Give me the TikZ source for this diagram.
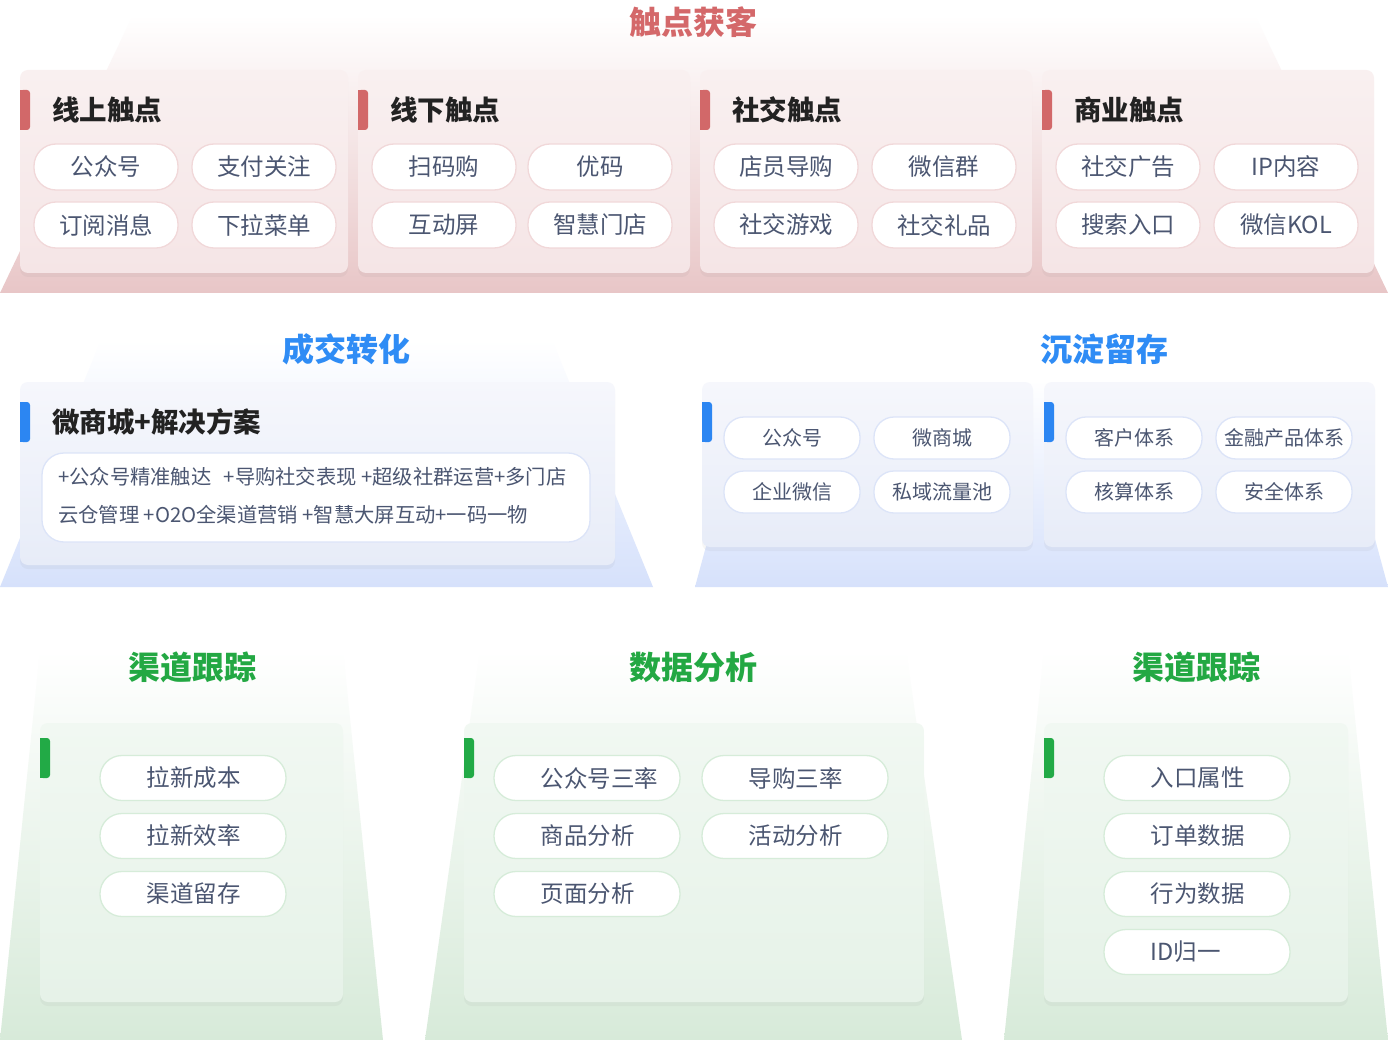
\documentclass[tikz,border=0pt]{standalone}
\usepackage{fontspec}
\setmainfont{Noto Sans CJK SC}
\usetikzlibrary{shadows}
\definecolor{redT}{HTML}{D4686A}
\definecolor{redBar}{HTML}{D26869}
\definecolor{redBg}{HTML}{E8C6C7}
\definecolor{redCardT}{HTML}{F9F0F0}
\definecolor{redCardB}{HTML}{F5E5E6}
\definecolor{redLine}{HTML}{F1D8D9}
\definecolor{blueT}{HTML}{2F8CF5}
\definecolor{blueBar}{HTML}{2C86F2}
\definecolor{blueBg}{HTML}{D6E1FB}
\definecolor{blueCardT}{HTML}{F6F7FC}
\definecolor{blueCardB}{HTML}{E7ECF8}
\definecolor{blueLine}{HTML}{DCE4F8}
\definecolor{greenT}{HTML}{23A843}
\definecolor{greenBar}{HTML}{22AA46}
\definecolor{greenBg}{HTML}{D7EAD9}
\definecolor{greenCardT}{HTML}{F1F8F2}
\definecolor{greenCardB}{HTML}{E6F2E8}
\definecolor{greenLine}{HTML}{D6ECD9}
\definecolor{pilltext}{HTML}{4B5671}
\definecolor{headtext}{HTML}{222222}
\begin{document}
\begin{tikzpicture}[x=1pt,y=-1pt,
  sectitle/.style={inner sep=0pt, font=\fontsize{32}{36}\selectfont\bfseries},
  cardhead/.style={anchor=west, inner sep=0pt, text=headtext, font=\fontsize{27.5}{30}\selectfont\bfseries},
  cardshadow/.style={drop shadow={opacity=0.07, shadow xshift=0pt, shadow yshift=-4pt}},
  redcard/.style={cardshadow, rounded corners=8pt, top color=redCardT, bottom color=redCardB},
  bluecard/.style={cardshadow, rounded corners=8pt, top color=blueCardT, bottom color=blueCardB},
  greencard/.style={cardshadow, rounded corners=8pt, top color=greenCardT, bottom color=greenCardB},
  redpill/.style={draw=redLine, line width=1.3pt, fill=white, rounded corners=22pt, minimum width=144pt, minimum height=46pt, inner sep=0pt, text=pilltext, font=\fontsize{23.5}{26}\selectfont},
  bluepill/.style={draw=blueLine, line width=1.3pt, fill=white, rounded corners=20pt, minimum width=136pt, minimum height=42pt, inner sep=0pt, text=pilltext, font=\fontsize{20}{24}\selectfont},
  greenpill/.style={draw=greenLine, line width=1.3pt, fill=white, rounded corners=22pt, minimum width=186pt, minimum height=45pt, inner sep=0pt},
  gtext/.style={anchor=west, inner sep=0pt, text=pilltext, font=\fontsize{23.5}{26}\selectfont},
  btext/.style={anchor=west, inner sep=0pt, text=pilltext, font=\fontsize{20.3}{24}\selectfont},
]
\useasboundingbox (0,0) rectangle (1388,1040);
\fill[white] (0,0) rectangle (1388,1040);

% ===== top section =====
\shade[top color=white, middle color=redBg!45, bottom color=redBg] (0,293) -- (133,15) -- (1255,15) -- (1388,293) -- cycle;
\node[sectitle, text=redT] (t1) at (693,22) {触点获客};

\foreach \cx in {20,358,700,1042}{
  \pgfmathsetmacro{\cw}{\cx==20 ? 328 : 332}
  \path[redcard] (\cx,70) rectangle ++(\cw,203);
  \fill[redBar, rounded corners=3pt] (\cx,90) rectangle ++(10,40);
  \fill[redBar] (\cx,90) rectangle ++(5,40);
}
\node[cardhead] (h1) at (52,110) {线上触点};
\node[cardhead] (h2) at (390,110) {线下触点};
\node[cardhead] (h3) at (732,110) {社交触点};
\node[cardhead] (h4) at (1074,110) {商业触点};

\node[redpill] (a1) at (106,167) {公众号};
\node[redpill] (a2) at (264,167) {支付关注};
\node[redpill] (a3) at (106,225) {订阅消息};
\node[redpill] (a4) at (264,225) {下拉菜单};
\node[redpill] (b1) at (444,167) {扫码购};
\node[redpill] (b2) at (600,167) {优码};
\node[redpill] (b3) at (444,225) {互动屏};
\node[redpill] (b4) at (600,225) {智慧门店};
\node[redpill] (c1) at (786,167) {店员导购};
\node[redpill] (c2) at (944,167) {微信群};
\node[redpill] (c3) at (786,225) {社交游戏};
\node[redpill] (c4) at (944,225) {社交礼品};
\node[redpill] (d1) at (1128,167) {社交广告};
\node[redpill] (d2) at (1286,167) {IP内容};
\node[redpill] (d3) at (1128,225) {搜索入口};
\node[redpill] (d4) at (1286,225) {微信KOL};

% ===== middle section =====
\shade[top color=white, bottom color=blueBg] (0,587) -- (101,340) -- (552,340) -- (653,587) -- cycle;
\shade[top color=white, bottom color=blueBg] (695,587) -- (751,380) -- (1332,380) -- (1388,587) -- cycle;
\node[sectitle, text=blueT] (t2) at (346,349) {成交转化};
\node[sectitle, text=blueT] (t3) at (1104,349) {沉淀留存};

\path[bluecard] (20,382) rectangle (615,565);
\path[bluecard] (702,382) rectangle (1033,547);
\path[bluecard] (1044,382) rectangle (1375,547);
\foreach \cx in {20,702,1044}{
  \fill[blueBar, rounded corners=3pt] (\cx,402) rectangle ++(10,40);
  \fill[blueBar] (\cx,402) rectangle ++(5,40);
}
\node[cardhead] (h5) at (52,422) {微商城+解决方案};
\node[draw=blueLine, line width=1.3pt, fill=white, rounded corners=22pt, minimum width=548pt, minimum height=89pt] (box) at (316,497.5) {};
\node[btext] (l1) at (58,477) {+公众号精准触达\hspace{0.6em}+导购社交表现 +超级社群运营+多门店};
\node[btext] (l2) at (58,515) {云仓管理 +O2O全渠道营销 +智慧大屏互动+一码一物};

\node[bluepill] (e1) at (792,438) {公众号};
\node[bluepill] (e2) at (942,438) {微商城};
\node[bluepill] (e3) at (792,492) {企业微信};
\node[bluepill] (e4) at (942,492) {私域流量池};
\node[bluepill] (f1) at (1134,438) {客户体系};
\node[bluepill] (f2) at (1284,438) {金融产品体系};
\node[bluepill] (f3) at (1134,492) {核算体系};
\node[bluepill] (f4) at (1284,492) {安全体系};

% ===== bottom section =====
\shade[top color=white, bottom color=greenBg] (0,1040) -- (40,650) -- (343,650) -- (383,1040) -- cycle;
\shade[top color=white, bottom color=greenBg] (425,1040) -- (480,650) -- (906,650) -- (962,1040) -- cycle;
\shade[top color=white, bottom color=greenBg] (1004,1040) -- (1044,650) -- (1348,650) -- (1388,1040) -- cycle;
\node[sectitle, text=greenT] (t4) at (192,667) {渠道跟踪};
\node[sectitle, text=greenT] (t5) at (693,667) {数据分析};
\node[sectitle, text=greenT] (t6) at (1196,667) {渠道跟踪};

\path[greencard] (40,723) rectangle (343,1002);
\path[greencard] (464,723) rectangle (924,1002);
\path[greencard] (1044,723) rectangle (1348,1002);
\foreach \cx in {40,464,1044}{
  \fill[greenBar, rounded corners=3pt] (\cx,738) rectangle ++(10,40);
  \fill[greenBar] (\cx,738) rectangle ++(5,40);
}

\node[greenpill] (g1) at (193,778) {};
\node[greenpill] (g2) at (193,836) {};
\node[greenpill] (g3) at (193,894) {};
\node[gtext] (g1t) at ([xshift=47pt]g1.west) {拉新成本};
\node[gtext] (g2t) at ([xshift=47pt]g2.west) {拉新效率};
\node[gtext] (g3t) at ([xshift=47pt]g3.west) {渠道留存};

\node[greenpill] (m1) at (587,778) {};
\node[greenpill] (m2) at (795,778) {};
\node[greenpill] (m3) at (587,836) {};
\node[greenpill] (m4) at (795,836) {};
\node[greenpill] (m5) at (587,894) {};
\node[gtext] (m1t) at ([xshift=47pt]m1.west) {公众号三率};
\node[gtext] (m2t) at ([xshift=47pt]m2.west) {导购三率};
\node[gtext] (m3t) at ([xshift=47pt]m3.west) {商品分析};
\node[gtext] (m4t) at ([xshift=47pt]m4.west) {活动分析};
\node[gtext] (m5t) at ([xshift=47pt]m5.west) {页面分析};

\node[greenpill] (r1) at (1197,778) {};
\node[greenpill] (r2) at (1197,836) {};
\node[greenpill] (r3) at (1197,894) {};
\node[greenpill] (r4) at (1197,952) {};
\node[gtext] (r1t) at ([xshift=47pt]r1.west) {入口属性};
\node[gtext] (r2t) at ([xshift=47pt]r2.west) {订单数据};
\node[gtext] (r3t) at ([xshift=47pt]r3.west) {行为数据};
\node[gtext] (r4t) at ([xshift=47pt]r4.west) {ID归一};
\end{tikzpicture}
\end{document}
